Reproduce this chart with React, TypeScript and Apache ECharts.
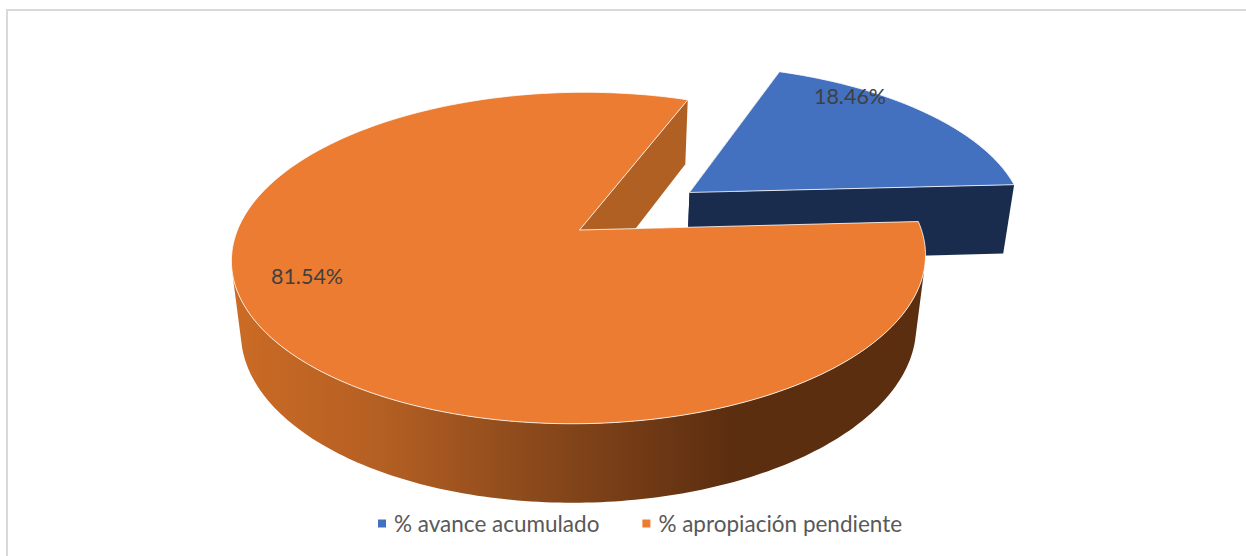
import React, { useEffect, useRef } from "react";
import * as echarts from "echarts";

const categories = ["% avance acumulado", "% apropiación pendiente"];
const values = [18.46, 81.54];
const percentLabels = ["18.46%", "81.54%"];
const topColors = ["#4371C0", "#EB7C31"];
const wallColors = ["#1A2C4E", "#B16024"];
const explode = [0.41, 0];
const labelPositions = [[850, 96], [307, 276]];

const START_DEG = 20.5;
const cam = { cx: 579.5, cy: 230, rx: 342, ry: 161, k: 0.169, m: 0.027, d: 73, skew: -6 };

const orangeSide = {
  type: "linear", x: 233, y: 0, x2: 730, y2: 0, global: true,
  colorStops: [
    { offset: 0, color: "#CB6B25" },
    { offset: 0.3, color: "#B45F23" },
    { offset: 0.58, color: "#8E4B1C" },
    { offset: 1, color: "#5C2E10" },
  ],
};

function proj(u: number, v: number, z: number): number[] {
  const w = 1 - cam.k * v + cam.m * z;
  return [cam.cx + (cam.rx * u + cam.skew * v) / w, cam.cy + (cam.ry * v + cam.d * z) / w];
}

function sliceShapes(i: number) {
  const total = values.reduce((a, b) => a + b, 0);
  let a0 = START_DEG;
  for (let j = 0; j < i; j++) a0 += (values[j] / total) * 360;
  const a1 = a0 + (values[i] / total) * 360;
  const mid = (((a0 + a1) / 2) * Math.PI) / 180;
  const ox = Math.sin(mid) * explode[i];
  const oy = -Math.cos(mid) * explode[i];
  const arcAt = (deg: number) => {
    const t = (deg * Math.PI) / 180;
    return [ox + Math.sin(t), oy - Math.cos(t)];
  };
  const angles: number[] = [];
  for (let a = a0; a < a1; a += 1) angles.push(a);
  angles.push(a1);
  const rim = angles.map(arcAt);
  const top = [proj(ox, oy, 0), ...rim.map((p) => proj(p[0], p[1], 0))];
  // Only the part of the rim whose wall faces the viewer is drawn.
  const facing = rim.filter((p, n) => {
    const q = rim[n + 1] || p;
    const r = rim[n - 1] || p;
    const a = proj(r[0], r[1], 0);
    const b = proj(q[0], q[1], 0);
    const c = proj(p[0], p[1], 1);
    const e = proj(p[0], p[1], 0);
    return (b[0] - a[0]) * (c[1] - e[1]) - (b[1] - a[1]) * (c[0] - e[0]) < 0;
  });
  const outer = [...facing.map((p) => proj(p[0], p[1], 0)), ...facing.slice().reverse().map((p) => proj(p[0], p[1], 1))];
  const cut = (p: number[]) => [proj(ox, oy, 0), proj(p[0], p[1], 0), proj(p[0], p[1], 1), proj(ox, oy, 1)];
  return { top, outer, cutA: cut(rim[0]), cutB: cut(rim[rim.length - 1]) };
}

function makeRenderItem(i: number) {
  return () => {
    const s = sliceShapes(i);
    const sideFill = i === 1 ? orangeSide : wallColors[i];
    return {
      type: "group",
      children: [
        { type: "polygon", shape: { points: s.outer }, style: { fill: sideFill } },
        { type: "polygon", shape: { points: s.cutA }, style: { fill: wallColors[i] } },
        { type: "polygon", shape: { points: s.cutB }, style: { fill: wallColors[i] } },
        {
          type: "polygon",
          shape: { points: s.top },
          style: { fill: topColors[i], stroke: "rgba(255,255,255,0.8)", lineWidth: 1 },
        },
      ],
    };
  };
}

export default function App() {
  const ref = useRef<HTMLDivElement>(null);
  useEffect(() => {
    const chart = echarts.init(ref.current!, undefined, { renderer: "svg" });
    chart.setOption({
      animation: false,
      backgroundColor: "#ffffff",
      color: topColors,
      legend: {
        show: true,
        data: categories,
        left: 373,
        top: 507,
        icon: "rect",
        itemWidth: 8,
        itemHeight: 8,
        itemGap: 43,
        textStyle: { color: "#595959", fontFamily: "Lato", fontSize: 22.5, padding: [0, 0, 0, 3] },
      },
      graphic: [
        { type: "line", shape: { x1: 6, y1: 10, x2: 1246, y2: 10 }, style: { stroke: "#D9D9D9", lineWidth: 2 }, silent: true },
        { type: "line", shape: { x1: 7, y1: 9, x2: 7, y2: 556 }, style: { stroke: "#D9D9D9", lineWidth: 2 }, silent: true },
        ...percentLabels.map((t, i) => ({
          type: "text",
          z: 100,
          x: labelPositions[i][0],
          y: labelPositions[i][1],
          style: { text: t, fill: "#404040", fontFamily: "Lato", fontSize: 21.5, align: "center", verticalAlign: "middle" },
        })),
      ],
      series: categories.map((name, i) => ({
        type: "custom",
        name,
        coordinateSystem: "none",
        silent: true,
        itemStyle: { color: topColors[i] },
        data: [[values[i]]],
        renderItem: makeRenderItem(i),
      })),
    });
    return () => chart.dispose();
  }, []);
  return <div ref={ref} style={{ position: "absolute", left: 0, top: 0, width: 1246, height: 556 }} />;
}
